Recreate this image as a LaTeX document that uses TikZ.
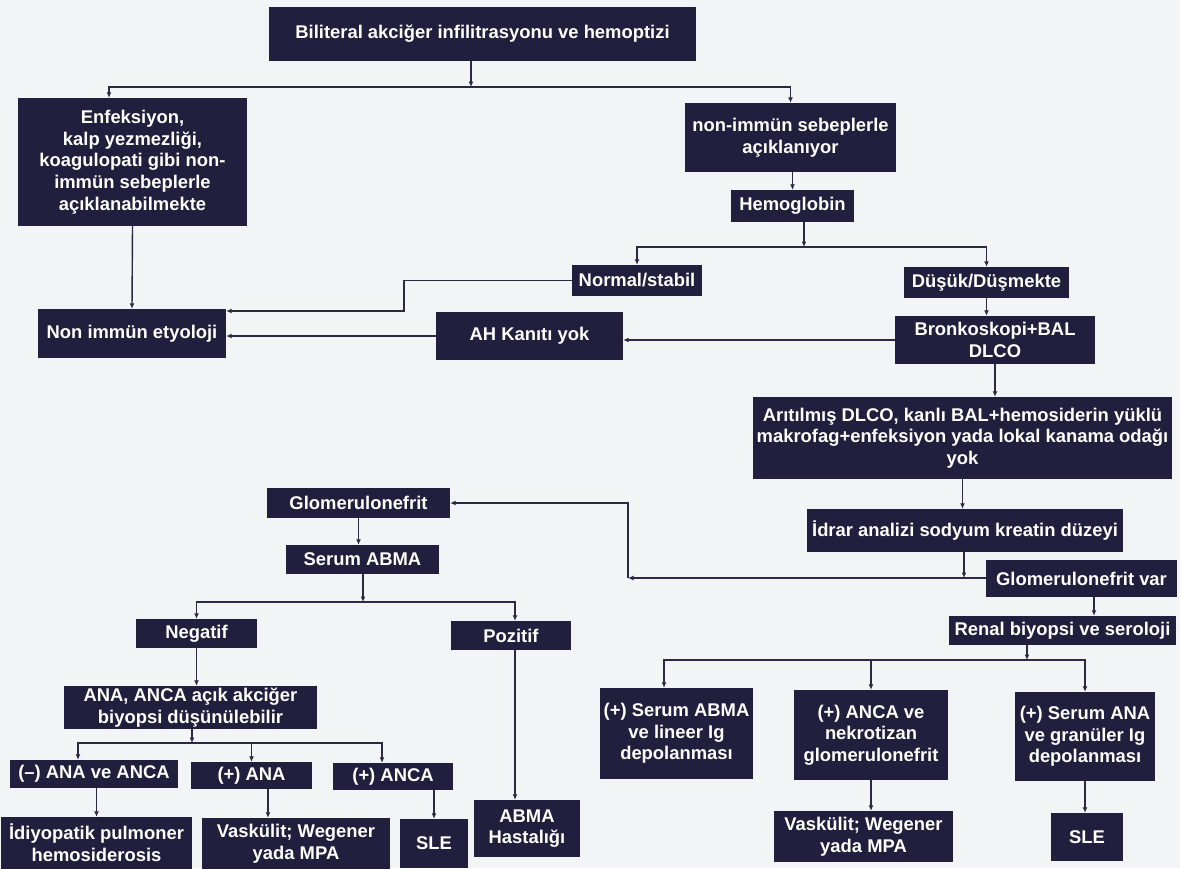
\documentclass[tikz,border=0pt]{standalone}
\usepackage{fontspec}
\setmainfont{Liberation Sans}
\usetikzlibrary{arrows.meta}
\definecolor{boxc}{HTML}{211F3D}
\definecolor{linec}{HTML}{2B2A45}
\definecolor{bgc}{HTML}{F3F4F6}
\tikzset{
  box/.style={fill=boxc, text=white, font=\fontsize{18.4}{21.7}\selectfont\bfseries, align=center, inner sep=0pt},
  arr/.style={draw=linec, line width=1.4pt, -{Latex[length=5.5pt,width=5pt]}}
}
\begin{document}
\begin{tikzpicture}[x=1pt,y=-1pt]
\fill[bgc] (0,0) rectangle (1180,868);
\useasboundingbox (0,0) rectangle (1180,868);
% nodes
\node[box, minimum width=427pt, minimum height=54pt] (top) at (482.5,34) {Biliteral akciğer infilitrasyonu ve hemoptizi};
\node[box, minimum width=229pt, minimum height=128pt] (enf) at (132.5,162) {Enfeksiyon,\\kalp yezmezliği,\\koagulopati gibi non-\\immün sebeplerle\\açıklanabilmekte};
\node[box, minimum width=211pt, minimum height=69pt] (nonimm) at (790.5,137.5) {non-immün sebeplerle\\açıklanıyor};
\node[box, minimum width=123pt, minimum height=32pt] (hemo) at (792.5,206) {Hemoglobin};
\node[box, minimum width=130pt, minimum height=31pt] (normal) at (637,280.5) {Normal/stabil};
\node[box, minimum width=165pt, minimum height=31pt] (dusuk) at (986.5,282.5) {Düşük/Düşmekte};
\node[box, minimum width=200pt, minimum height=48pt] (bronko) at (995,340) {Bronkoskopi+BAL\\DLCO};
\node[box, minimum width=187pt, minimum height=48pt] (ah) at (529.5,336) {AH Kanıtı yok};
\node[box, minimum width=188pt, minimum height=49pt] (nonet) at (132,333.5) {Non immün etyoloji};
\node[box, minimum width=419pt, minimum height=82pt] (arit) at (962.5,438) {Arıtılmış DLCO, kanlı BAL+hemosiderin yüklü\\makrofag+enfeksiyon yada lokal kanama odağı\\yok};
\node[box, minimum width=316pt, minimum height=43pt] (idrar) at (965,530.5) {İdrar analizi sodyum kreatin düzeyi};
\node[box, minimum width=191pt, minimum height=37pt] (gvar) at (1081.5,578.5) {Glomerulonefrit var};
\node[box, minimum width=183pt, minimum height=30pt] (glom) at (358.5,503) {Glomerulonefrit};
\node[box, minimum width=153pt, minimum height=29pt] (sabma) at (362.5,559.5) {Serum ABMA};
\node[box, minimum width=121pt, minimum height=29pt] (neg) at (196.5,633.5) {Negatif};
\node[box, minimum width=120pt, minimum height=29pt] (poz) at (511,635.5) {Pozitif};
\node[box, minimum width=106pt, minimum height=57pt] (abmah) at (527,828.5) {ABMA\\Hastalığı};
\node[box, minimum width=253pt, minimum height=43pt] (ana) at (190.5,707.5) {ANA, ANCA açık akciğer\\biyopsi düşünülebilir};
\node[box, minimum width=168pt, minimum height=28pt] (negana) at (94,774) {(–) ANA ve ANCA};
\node[box, minimum width=121pt, minimum height=27pt] (posana) at (251.5,775.5) {(+) ANA};
\node[box, minimum width=120pt, minimum height=27pt] (posanca) at (393,776.5) {(+) ANCA};
\node[box, minimum width=191pt, minimum height=52pt] (idiy) at (96.5,843) {İdiyopatik pulmoner\\hemosiderosis};
\node[box, minimum width=188pt, minimum height=51pt] (vaska) at (296,843.5) {Vaskülit; Wegener\\yada MPA};
\node[box, minimum width=68pt, minimum height=49pt] (slea) at (434,843.5) {SLE};
\node[box, minimum width=227pt, minimum height=29pt] (renal) at (1062.5,630.5) {Renal biyopsi ve seroloji};
\node[box, minimum width=153pt, minimum height=91pt] (rabma) at (676.5,733.5) {(+) Serum ABMA\\ve lineer Ig\\depolanması};
\node[box, minimum width=154pt, minimum height=90pt] (ranca) at (871,735) {(+) ANCA ve\\nekrotizan\\glomerulonefrit};
\node[box, minimum width=140pt, minimum height=89pt] (rana) at (1085,736.5) {(+) Serum ANA\\ve granüler Ig\\depolanması};
\node[box, minimum width=179pt, minimum height=51pt] (vaskb) at (863.5,836.5) {Vaskülit; Wegener\\yada MPA};
\node[box, minimum width=72pt, minimum height=48pt] (sleb) at (1087,837) {SLE};
% helper coordinates
\coordinate (j1) at (471,87);
\coordinate (xa1) at (109,87);
\coordinate (j2) at (804,247);
\coordinate (k1) at (404,311);
\coordinate (j3) at (964,578);
\coordinate (k2) at (628,578);
\coordinate (j4) at (363,602);
\coordinate (j5) at (515,602);
\coordinate (j6) at (192,743);
\coordinate (c1) at (78,743);
\coordinate (c2) at (382,743);
\coordinate (c3) at (268,800);
\coordinate (c4) at (1094,600);
\coordinate (j7) at (1027,660);
\coordinate (c5) at (664,660);
% connectors
\draw[arr] (top.south -| j1) -- (j1);
\draw[arr] (j1) -- (xa1) -- (enf.north -| xa1);
\draw[arr] (j1) -| (nonimm.north);
\draw[arr] (nonimm.south -| hemo) -- (hemo.north);
\draw[arr] (hemo.south -| j2) -- (j2);
\draw[arr] (j2) -| (normal.north);
\draw[arr] (j2) -| (dusuk.north);
\draw[arr] (dusuk.south) -- (dusuk.south |- bronko.north);
\draw[arr] (bronko.west) -- (ah.east |- bronko.west);
\draw[arr] (ah.west) -- (nonet.east |- ah.west);
\draw[arr] (normal.west) -| (k1) -- (nonet.east |- k1);
\draw[arr] (enf.south) -- (nonet.north);
\draw[arr] (bronko.south) -- (bronko.south |- arit.north);
\draw[arr] (arit.south) -- (arit.south |- idrar.north);
\draw[arr] (idrar.south -| j3) -- (j3);
\draw[arr] (gvar.west |- k2) -- (k2);
\draw[arr] (k2) |- (glom.east);
\draw[arr] (glom.south) -- (glom.south |- sabma.north);
\draw[arr] (sabma.south -| j4) -- (j4);
\draw[arr] (j4) -| (neg.north);
\draw[arr] (j4) -- (j5) -- (poz.north -| j5);
\draw[arr] (poz.south -| j5) -- (abmah.north -| j5);
\draw[arr] (neg.south) -- (neg.south |- ana.north);
\draw[arr] (ana.south -| j6) -- (j6);
\draw[arr] (j6) -- (c1) -- (negana.north -| c1);
\draw[arr] (j6) -| (posana.north);
\draw[arr] (j6) -- (c2) -- (posanca.north -| c2);
\draw[arr] (negana.south -| idiy) -- (idiy.north);
\draw[arr] (posana.south -| c3) -- (vaska.north -| c3);
\draw[arr] (posanca.south -| slea) -- (slea.north);
\draw[arr] (gvar.south -| c4) -- (renal.north -| c4);
\draw[arr] (renal.south -| j7) -- (j7);
\draw[arr] (j7) -- (c5) -- (rabma.north -| c5);
\draw[arr] (j7) -| (ranca.north);
\draw[arr] (j7) -| (rana.north);
\draw[arr] (ranca.south) -- (ranca.south |- vaskb.north);
\draw[arr] (rana.south) -- (rana.south |- sleb.north);
\end{tikzpicture}
\end{document}
